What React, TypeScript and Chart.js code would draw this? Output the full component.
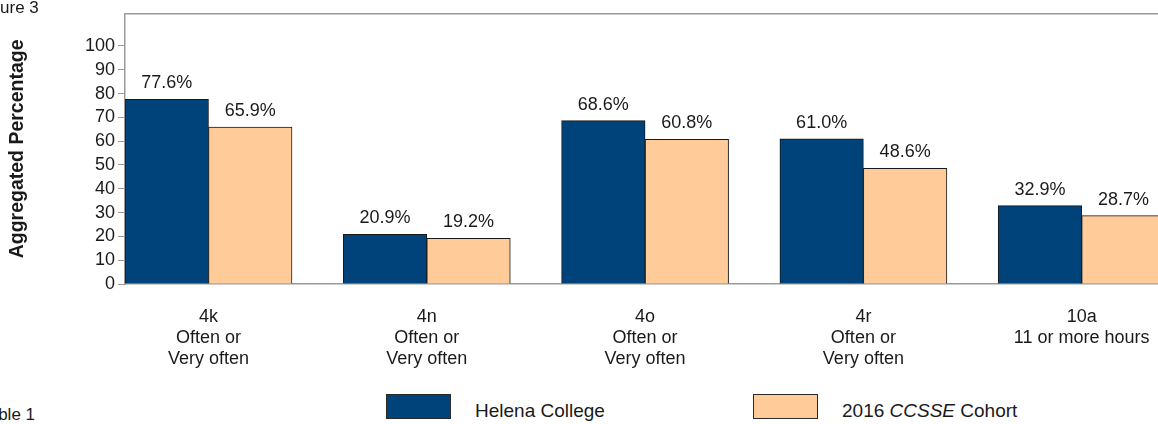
import React, { useEffect, useRef } from "react";
import { Chart, registerables } from "chart.js";

Chart.register(...registerables);

const categories = ["4k", "4n", "4o", "4r", "10a"];
const categoryNotes = [
  ["Often or", "Very often"],
  ["Often or", "Very often"],
  ["Often or", "Very often"],
  ["Often or", "Very often"],
  ["11 or more hours"],
];
const helenaValues = [77.6, 20.9, 68.6, 61.0, 32.9];
const cohortValues = [65.9, 19.2, 60.8, 48.6, 28.7];
const yTickValues = [0, 10, 20, 30, 40, 50, 60, 70, 80, 90, 100];
const seriesNames = ["Helena College", "2016 CCSSE Cohort"];

const BLUE = "#00427A";
const PEACH = "#FFCB99";
const FONT = '"Liberation Sans", Arial, sans-serif';
const X_MIN = -0.3825;
const X_MAX = 4.3496;

const valueLabels = {
  id: "valueLabels",
  afterDatasetsDraw(chart: any) {
    const ctx = chart.ctx;
    ctx.save();
    ctx.font = `18px ${FONT}`;
    ctx.fillStyle = "#1a1a1a";
    ctx.textAlign = "center";
    ctx.textBaseline = "alphabetic";
    chart.data.datasets.forEach((ds: any, di: number) => {
      const meta = chart.getDatasetMeta(di);
      meta.data.forEach((el: any, i: number) => {
        const v = ds.data[i].y;
        ctx.fillText(v.toFixed(1) + "%", el.x, el.y - 11);
      });
    });
    ctx.restore();
  },
};

export default function App() {
  const ref = useRef<HTMLCanvasElement>(null);

  useEffect(() => {
    if (!ref.current) return;
    const chart = new Chart(ref.current, {
      type: "bar",
      data: {
        datasets: [
          {
            label: seriesNames[0],
            data: helenaValues.map((v, i) => ({ x: i, y: v })),
            backgroundColor: BLUE,
            borderColor: "#1a1a1a",
            borderWidth: 1,
            barThickness: 83.5,
          },
          {
            label: seriesNames[1],
            data: cohortValues.map((v, i) => ({ x: i, y: v })),
            backgroundColor: PEACH,
            borderColor: "#1a1a1a",
            borderWidth: 1,
            barThickness: 83.5,
          },
        ],
      } as any,
      options: {
        animation: false,
        responsive: false,
        devicePixelRatio: 1,
        layout: { padding: { top: 12, left: 0, right: 0, bottom: 0 } },
        plugins: {
          legend: { display: false },
          tooltip: { enabled: false },
        },
        scales: {
          x: {
            type: "linear",
            position: "bottom",
            offset: false,
            min: X_MIN,
            max: X_MAX,
            grid: { display: false, drawTicks: false, offset: false },
            border: { display: true, color: "#9a9a9a", width: 1.5 },
            afterBuildTicks: (scale: any) => {
              scale.ticks = categories.map((_, i) => ({ value: i }));
            },
            afterFit: (scale: any) => {
              scale.height = 96;
              scale.paddingLeft = 0;
              scale.paddingRight = 0;
            },
            ticks: {
              autoSkip: false,
              maxRotation: 0,
              minRotation: 0,
              padding: 23,
              color: "#1a1a1a",
              font: { family: FONT, size: 18, lineHeight: 1.15 },
              callback: (value: any) => {
                const i = Math.round(Number(value));
                return [categories[i], ...categoryNotes[i]];
              },
            },
          },
          x2: {
            type: "linear",
            position: "top",
            offset: false,
            min: X_MIN,
            max: X_MAX,
            grid: { display: false, drawTicks: false },
            ticks: { display: false },
            border: { display: true, color: "#9a9a9a", width: 1.5 },
            afterFit: (scale: any) => {
              scale.height = 0;
              scale.paddingLeft = 0;
              scale.paddingRight = 0;
            },
          },
          y: {
            min: 0,
            max: 113.5,
            afterBuildTicks: (scale: any) => {
              scale.ticks = yTickValues.map((v) => ({ value: v }));
            },
            afterFit: (scale: any) => {
              scale.width = 125;
            },
            grid: {
              display: true,
              drawOnChartArea: false,
              drawTicks: true,
              tickLength: 7,
              color: "#9a9a9a",
            },
            border: { display: true, color: "#9a9a9a", width: 1.5 },
            ticks: {
              padding: 3,
              color: "#1a1a1a",
              font: { family: FONT, size: 18 },
            },
            title: {
              display: true,
              text: "Aggregated Percentage",
              color: "#1a1a1a",
              font: { family: FONT, size: 19.5, weight: "bold" },
              padding: { top: 6, bottom: 0 },
            },
          },
        },
      } as any,
      plugins: [valueLabels],
    });
    return () => chart.destroy();
  }, []);

  const legendText: React.CSSProperties = {
    position: "absolute",
    top: 401,
    fontSize: 19,
    lineHeight: "20px",
    color: "#1a1a1a",
    whiteSpace: "nowrap",
  };
  const box: React.CSSProperties = {
    position: "absolute",
    top: 394,
    width: 63,
    height: 23,
    border: "1px solid #2a2a2a",
  };

  return (
    <div
      style={{
        position: "fixed",
        left: 0,
        top: 0,
        width: 1158,
        height: 424,
        overflow: "hidden",
        background: "#fff",
        fontFamily: FONT,
      }}
    >
      <canvas
        ref={ref}
        width={1158}
        height={380}
        style={{ position: "absolute", left: 0, top: 0, width: 1158, height: 380 }}
      />
      <div
        style={{
          position: "absolute",
          left: -23.6,
          top: -1.5,
          fontSize: 17,
          lineHeight: "17px",
          color: "#1a1a1a",
          whiteSpace: "nowrap",
        }}
      >
        Figure 3
      </div>
      <div
        style={{
          position: "absolute",
          left: -19.8,
          top: 406,
          fontSize: 17,
          lineHeight: "17px",
          color: "#1a1a1a",
          whiteSpace: "nowrap",
        }}
      >
        Table 1
      </div>
      <div style={{ ...box, left: 386, background: BLUE }} />
      <div style={{ ...legendText, left: 475 }}>{seriesNames[0]}</div>
      <div style={{ ...box, left: 753, background: PEACH }} />
      <div style={{ ...legendText, left: 842 }}>
        2016 <i>CCSSE</i> Cohort
      </div>
    </div>
  );
}
